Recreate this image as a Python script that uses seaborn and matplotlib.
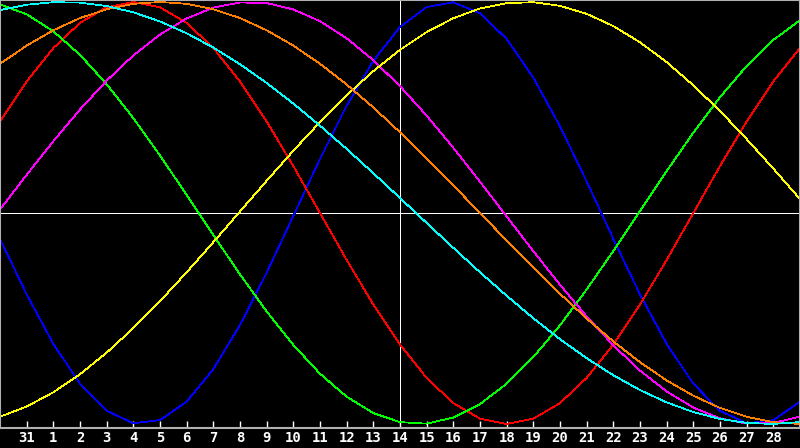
import pandas as pd
import matplotlib
matplotlib.use("Agg")
import matplotlib.pyplot as plt
import seaborn as sns

# day index 0..30, labels under each day (Jan 30 .. Mar 1)
day_labels = ["30", "31"] + [str(d) for d in range(1, 29)] + ["1"]
today_index = 15

# cycle values, one per day
physical = [-0.1226, -0.3858, -0.6203, -0.8090, -0.9375, -0.9966, -0.9817, -0.8941,
            -0.7400, -0.5312, -0.2829, -0.0137, 0.2566, 0.5080, 0.7215, 0.8815,
            0.9762, 0.9985, 0.9467, 0.8249, 0.6415, 0.4109, 0.1497, -0.1226,
            -0.3858, -0.6203, -0.8090, -0.9375, -0.9966, -0.9817, -0.8941]
emotional = [0.4339, 0.6235, 0.7818, 0.9010, 0.9749, 1.0, 0.9749, 0.9010,
             0.7818, 0.6235, 0.4339, 0.2225, 0.0, -0.2225, -0.4339, -0.6235,
             -0.7818, -0.9010, -0.9749, -1.0, -0.9749, -0.9010, -0.7818, -0.6235,
             -0.4339, -0.2225, 0.0, 0.2225, 0.4339, 0.6235, 0.7818]
intellectual = [0.9884, 0.9419, 0.8612, 0.7496, 0.6105, 0.4497, 0.2723, 0.0856,
                -0.1045, -0.2910, -0.4666, -0.6252, -0.7619, -0.8707, -0.9481, -0.9911,
                -0.9984, -0.9695, -0.9057, -0.8090, -0.6831, -0.5326, -0.3624, -0.1799,
                0.0095, 0.1986, 0.3805, 0.5490, 0.6969, 0.8201, 0.9135]
intuitive = [0.0165, 0.1809, 0.3403, 0.4904, 0.6272, 0.7468, 0.8458, 0.9221,
             0.9734, 0.9978, 0.9950, 0.9649, 0.9089, 0.8281, 0.7243, 0.6010,
             0.4614, 0.3090, 0.1482, -0.0165, -0.1809, -0.3403, -0.4904, -0.6272,
             -0.7468, -0.8458, -0.9221, -0.9734, -0.9978, -0.9950, -0.9649]
aesthetic = [-0.9656, -0.9174, -0.8497, -0.7640, -0.6618, -0.5457, -0.4178, -0.2809,
             -0.1383, 0.0073, 0.1528, 0.2952, 0.4310, 0.5578, 0.6727, 0.7733,
             0.8574, 0.9232, 0.9693, 0.9948, 0.9990, 0.9820, 0.9440, 0.8860,
             0.8090, 0.7149, 0.6050, 0.4834, 0.3502, 0.2104, 0.0657]
awareness = [0.7071, 0.7934, 0.8660, 0.9239, 0.9659, 0.9914, 1.0, 0.9914,
             0.9659, 0.9239, 0.8660, 0.7934, 0.7071, 0.6088, 0.5, 0.3827,
             0.2588, 0.1305, 0.0, -0.1305, -0.2588, -0.3827, -0.5, -0.6088,
             -0.7071, -0.7934, -0.8660, -0.9239, -0.9659, -0.9914, -1.0]
spiritual = [0.9614, 0.9872, 0.9991, 0.9970, 0.9809, 0.9511, 0.9078, 0.8519,
             0.7839, 0.7051, 0.6163, 0.5186, 0.4138, 0.3036, 0.1887, 0.0710,
             -0.0474, -0.1653, -0.2809, -0.3923, -0.4988, -0.5982, -0.6880, -0.7690,
             -0.8392, -0.8976, -0.9435, -0.9760, -0.9949, -0.9998, -0.9907]

cycle_colors = {
    "physical": "#0000FF",
    "emotional": "#FF0000",
    "intellectual": "#00FF00",
    "intuitive": "#FF00FF",
    "aesthetic": "#FFFF00",
    "awareness": "#FF8000",
    "spiritual": "#00FFFF",
}

df = pd.DataFrame({
    "day": list(range(len(day_labels))),
    "physical": physical,
    "emotional": emotional,
    "intellectual": intellectual,
    "intuitive": intuitive,
    "aesthetic": aesthetic,
    "awareness": awareness,
    "spiritual": spiritual,
})
long_df = df.melt(id_vars="day", var_name="cycle", value_name="value")

sns.set_style("dark", {"axes.facecolor": "black", "figure.facecolor": "black"})

fig = plt.figure(figsize=(8, 4.48), dpi=100)
ax = fig.add_axes([0, 20 / 448, 1, 428 / 448])

# white cross: zero line and today
ax.axhline(0, color="white", linewidth=0.72, zorder=1)
ax.axvline(today_index, color="white", linewidth=0.72, zorder=1)

sns.lineplot(data=long_df, x="day", y="value", hue="cycle",
             hue_order=list(cycle_colors), palette=cycle_colors,
             linewidth=0.6, legend=False, ax=ax, zorder=2)
for line in ax.lines[2:]:
    line.set_antialiased(False)
    line.set_linewidth(0.55)

ax.set_xlim(0, len(day_labels) - 1)
ax.set_ylim(-1.019, 1.0095)
ax.set_xlabel("")
ax.set_ylabel("")
ax.set_yticks([])
ax.grid(False)

tick_pos = list(range(1, len(day_labels) - 1))
ax.set_xticks(tick_pos)
ax.set_xticklabels([day_labels[i] for i in tick_pos],
                   fontfamily="DejaVu Sans Mono", fontweight="bold",
                   fontsize=10, color="white")
ax.tick_params(axis="x", direction="in", length=5, width=1,
               color="white", pad=2.5, bottom=True)

for side in ["top", "bottom", "left", "right"]:
    ax.spines[side].set_visible(True)
    ax.spines[side].set_color("#B0B0B0")
    ax.spines[side].set_linewidth(1.5)

fig.savefig("out.png", dpi=100, facecolor="black")
